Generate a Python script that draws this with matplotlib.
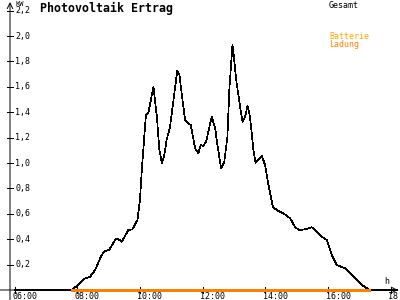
import matplotlib
matplotlib.use('Agg')
import matplotlib.pyplot as plt
import matplotlib.transforms as mtransforms

# Gesamt (kW) over time of day (hours)
stunden = [6.0, 7.83, 7.98, 8.19, 8.41, 8.57, 8.78, 8.89, 9.02, 9.21, 9.28, 9.42, 9.63,
           9.76, 9.92, 10.00, 10.06, 10.19, 10.27, 10.43, 10.54, 10.62, 10.70, 10.77,
           10.85, 10.96, 11.07, 11.19, 11.26, 11.33, 11.44, 11.54, 11.62, 11.76, 11.86,
           11.94, 12.02, 12.11, 12.29, 12.40, 12.47, 12.59, 12.69, 12.79, 12.85, 12.95,
           12.98, 13.07, 13.17, 13.27, 13.35, 13.43, 13.51, 13.62, 13.69, 13.78, 13.89,
           13.99, 14.10, 14.24, 14.36, 14.57, 14.79, 14.95, 15.08, 15.27, 15.48, 15.64,
           15.80, 15.96, 16.12, 16.28, 16.54, 16.70, 16.92, 17.13, 17.29, 17.31, 18.2]
gesamt = [0.0, 0.0, 0.031, 0.084, 0.105, 0.157, 0.276, 0.307, 0.315, 0.394, 0.407, 0.380,
          0.472, 0.478, 0.551, 0.709, 0.945, 1.378, 1.396, 1.601, 1.365, 1.102, 1.002,
          1.050, 1.181, 1.286, 1.496, 1.727, 1.693, 1.549, 1.339, 1.313, 1.299, 1.116,
          1.076, 1.142, 1.134, 1.168, 1.365, 1.273, 1.142, 0.958, 1.010, 1.207, 1.575,
          1.929, 1.876, 1.654, 1.483, 1.325, 1.360, 1.449, 1.365, 1.102, 1.002, 1.024,
          1.055, 0.984, 0.827, 0.656, 0.630, 0.604, 0.565, 0.494, 0.472, 0.478, 0.494,
          0.459, 0.420, 0.394, 0.276, 0.197, 0.171, 0.131, 0.079, 0.031, 0.006, 0.0, 0.0]

# Batterie Ladung (kW)
ladung_stunden = [7.83, 17.29]
ladung = [0.0, 0.0]

y_ticks = [0.2, 0.4, 0.6, 0.8, 1.0, 1.2, 1.4, 1.6, 1.8, 2.0, 2.2]
y_labels = ['0,2', '0,4', '0,6', '0,8', '1,0', '1,2', '1,4', '1,6', '1,8', '2,0', '2,2']
x_ticks = [6, 8, 10, 12, 14, 16, 18]
x_labels = ['06:00', '08:00', '10:00', '12:00', '14:00', '16:00', '18:']

plt.rcParams['font.family'] = 'DejaVu Sans Mono'

fig = plt.figure(figsize=(4, 3), dpi=100)
ax = fig.add_axes([10 / 400, 10 / 300, 388 / 400, 288 / 300])
ax.set_xlim(5.856, 18.23)
ax.set_ylim(0, 2.268)
for s in ax.spines.values():
    s.set_visible(False)
ax.set_xticks([])
ax.set_yticks([])

ax.plot(stunden, gesamt, color='black', lw=0.5, antialiased=False, clip_on=False)
ax.plot(ladung_stunden, ladung, color='#ff8000', lw=0.8, antialiased=False,
        clip_on=False, zorder=5)

# axes with arrows
ax.annotate('', xy=(1.0, 0), xytext=(-10 / 388, 0), xycoords='axes fraction',
            arrowprops=dict(arrowstyle='->', color='black', lw=0.7, shrinkA=0, shrinkB=0))
ax.annotate('', xy=(0, 1.0), xytext=(0, -10 / 288), xycoords='axes fraction',
            arrowprops=dict(arrowstyle='->', color='black', lw=0.7, shrinkA=0, shrinkB=0))

# y ticks and labels
ytr = mtransforms.blended_transform_factory(ax.transAxes, ax.transData)
for v, lab in zip(y_ticks, y_labels):
    ax.plot([-3 / 388, 3 / 388], [v, v], color='black', lw=0.5, transform=ytr,
            clip_on=False, antialiased=False)
    ax.text(5 / 388, v, lab, transform=ytr, fontsize=6, ha='left', va='center')

# x ticks and labels
xtr = mtransforms.blended_transform_factory(ax.transData, ax.transAxes)
for v, lab in zip(x_ticks, x_labels):
    ax.plot([v, v], [-3 / 288, 3 / 288], color='black', lw=0.5, transform=xtr,
            clip_on=False, antialiased=False)
    ax.text(v - 0.08, -9 / 288, lab, transform=xtr, fontsize=6, ha='left',
            va='baseline')

fig.text(15 / 400, 1 - 4.5 / 300, 'KW', fontsize=5, ha='left', va='center')
fig.text(384 / 400, 1 - 282 / 300, 'h', fontsize=6, ha='left', va='center')
fig.text(40 / 400, 1 - 8 / 300, 'Photovoltaik Ertrag', fontsize=8.4, fontweight='bold',
         ha='left', va='center')
fig.text(329 / 400, 1 - 5 / 300, 'Gesamt', fontsize=6, ha='left', va='center')
fig.text(329 / 400, 1 - 36.5 / 300, 'Batterie', fontsize=6, ha='left', va='center',
         color='#ffa500')
fig.text(329 / 400, 1 - 44 / 300, 'Ladung', fontsize=6, ha='left', va='center',
         color='#ff8000')

fig.savefig('out.png', dpi=100)
